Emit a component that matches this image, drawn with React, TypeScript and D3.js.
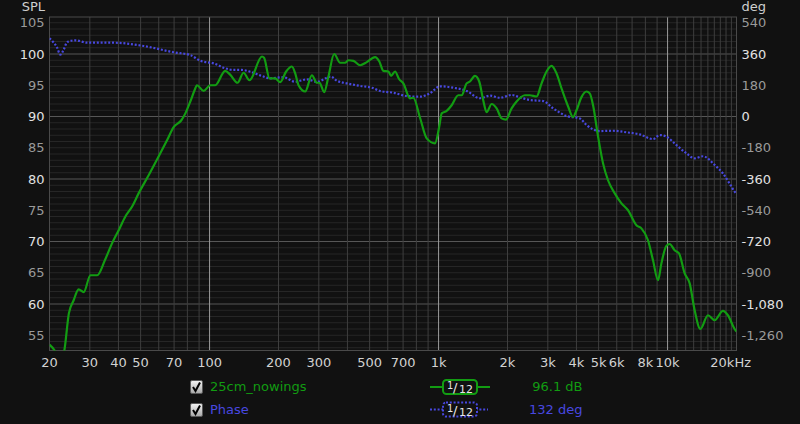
import * as d3 from "d3";

// frequency response (Hz / dB)
const splFreq = [
  20, 21.2, 22.2, 23.2, 24.3, 25.5, 26.8, 28.2, 30.2, 32.3, 34.9, 37.5, 40.1, 42.9, 45.9, 49, 54.2, 59.9,
  65.2, 69.7, 75.3, 78.4, 82.4, 86, 88.1, 94.2, 100.7, 105.9, 117, 123, 132.5, 140.7, 149.4, 169.4, 173,
  182.7, 193.5, 203.4, 216, 228.8, 236.6, 244.6, 261.6, 279.8, 294.2, 302, 316.6, 330.4, 350, 371.6,
  390.8, 404, 424.8, 454.4, 485.8, 528.2, 551.4, 574.2, 603.6, 620.2, 645.6, 672, 701.8, 750.4, 775.8,
  830, 887.8, 965, 1007, 1032, 1085, 1141, 1219, 1261, 1326, 1371, 1442, 1505, 1567, 1621, 1705, 1793,
  1885, 1968, 2084, 2192, 2382, 2504, 2680, 2817, 2962, 3115, 3275, 3443, 3679, 3868, 4003, 4208, 4425,
  4573, 4728, 4971, 5227, 5496, 5880, 6290, 6720, 7311, 7688, 8214, 8638, 9084, 9398, 9882, 10214,
  10740, 11218, 11878, 12490, 13132, 13904, 15010, 16056, 17450, 18348, 19622, 20000,
];
const splDb = [
  53.5, 52.4, 50.6, 52.5, 58.5, 60.6, 62.35, 61.9, 64.6, 64.6, 67.0, 69.7, 71.8, 74.0, 75.6, 77.7, 80.6, 83.6,
  86.2, 88.3, 89.4, 90.5, 92.4, 94.2, 95.0, 94.1, 95.0, 95.0, 97.3, 96.7, 95.4, 97.0, 95.8, 99.6, 99.4,
  96.1, 96.1, 95.5, 97.2, 98.0, 96.9, 95.0, 94.0, 96.6, 95.4, 95.4, 93.9, 96.4, 100.0, 98.6,
  98.6, 99.0, 98.9, 98.2, 98.7, 99.5, 98.8, 97.3, 97.2, 96.5, 97.2, 96.0, 95.3, 92.9, 93.0,
  89.8, 86.5, 85.7, 88.4, 90.5, 90.9, 91.8, 93.4, 93.4, 95.3, 95.6, 96.5, 95.6, 92.6, 90.7, 92.0, 91.3,
  89.7, 89.5, 91.3, 92.4, 93.4, 93.4, 93.2, 95.3, 97.2, 98.1, 96.9, 94.5, 91.6, 89.9, 91.0, 93.1, 94.0,
  93.7, 91.8, 86.8, 82.5, 79.8, 77.7, 76.1, 75.0, 72.6, 72.1, 70.2, 67.0, 63.8, 66.5, 69.3, 69.6,
  68.6, 68.1, 64.9, 63.3, 59.0, 56.0, 58.2, 57.4, 58.9, 58.2, 56.0, 55.6,
];

// phase (Hz / deg)
const phaseFreq = [
  20, 21.6, 22.3, 23.1, 23.9, 26, 29.2, 38.1, 51.6, 69.7, 82.4, 91.1, 104.1, 117, 127.3, 138.5, 150.5,
  169.4, 184, 210, 236.6, 266, 294.2, 338.6, 359.6, 397.6, 454.4, 511, 555.4, 634.8, 726, 830, 917,
  1015, 1160, 1326, 1516, 1676, 1853, 2084, 2266, 2504, 2862, 3164, 3620, 4138, 4425, 5058, 5781,
  6614, 7560, 8638, 9240, 9882, 10926, 12080, 13132, 14276, 16056, 17450, 18662, 19622, 20000,
];
const phaseDeg = [
  450, 396, 356, 387, 429, 439, 425, 425, 406, 370, 354, 321, 306, 278, 268, 268, 258,
  233, 220, 226, 200, 214, 200, 230, 206, 191, 176, 166, 147, 137, 118, 114, 134,
  174, 166, 147, 105, 120, 108, 124, 110, 95, 89, 47, 3, -11, -49, -84, -82,
  -91, -103, -130, -107, -116, -164, -212, -241, -229, -279, -328, -386, -433, -445,
];

const splTicks = [55, 60, 65, 70, 75, 80, 85, 90, 95, 100, 105];
const degTicks = [-1260, -1080, -900, -720, -540, -360, -180, 0, 180, 360, 540];
const freqTicks = [20, 30, 40, 50, 70, 100, 200, 300, 500, 700, 1000, 2000, 3000, 4000, 5000, 6000, 8000, 10000, 20000];
const freqLabels = ["20", "30", "40", "50", "70", "100", "200", "300", "500", "700", "1k", "2k", "3k", "4k", "5k", "6k", "8k", "10k", "20kHz"];

const W = 800;
const H = 424;
const left = 49.5;
const right = 736.5;
const top = 17;
const bottom = 350.5;
const BG = "#111111";
const GREEN = "#129c12";
const BLUE = "#4848e0";
const font = "'DejaVu Sans', sans-serif";

// dB window, phase axis shares it (0 deg at 90 dB, 180 deg per 5 dB)
const dbMin = 52.56;
const dbMax = 105.92;

export default function App() {
  const x = d3.scaleLog().domain([20, 20000]).range([left, right]);
  const yL = d3.scaleLinear().domain([dbMin, dbMax]).range([bottom, top]);
  const yR = d3.scaleLinear().domain([(dbMin - 90) * 36, (dbMax - 90) * 36]).range([bottom, top]);

  // vertical grid: 1..9 per decade, 1k steps above 10k
  const gridF: number[] = [];
  for (const dec of [10, 100, 1000]) for (let m = 1; m <= 9; m++) gridF.push(dec * m);
  for (let f = 10000; f <= 20000; f += 1000) gridF.push(f);
  const vLines = gridF.filter((f) => f > 20 && f < 20000);

  const hLines = d3.range(53, 106, 1);

  const splLine = d3
    .line<number>()
    .x((_, i) => x(splFreq[i]))
    .y((d) => yL(d))
    .curve(d3.curveMonotoneX);
  const phaseLine = d3
    .line<number>()
    .x((_, i) => x(phaseFreq[i]))
    .y((d) => yR(d))
    .curve(d3.curveMonotoneX);

  const fmtDeg = (v: number) => d3.format(",")(v).replace("\u2212", "-");

  return (
    <div>
      <style>{`body{margin:0;background:${BG};}`}</style>
      <svg width={W} height={H} style={{ display: "block", background: BG }} fontFamily={font}>
        <defs>
          <clipPath id="plot">
            <rect x={left} y={top} width={right - left} height={bottom - top} />
          </clipPath>
          <linearGradient id="cb" x1="0" y1="0" x2="0" y2="1">
            <stop offset="0" stopColor="#f4f4f4" />
            <stop offset="1" stopColor="#a8a8a8" />
          </linearGradient>
        </defs>

        {/* grid */}
        {hLines.map((v) => (
          <line key={"h" + v} x1={left} x2={right} y1={yL(v)} y2={yL(v)}
            stroke={v % 10 === 0 ? "#575757" : "#262626"} strokeWidth={1} />
        ))}
        {vLines.map((f) => (
          <line key={"v" + f} x1={x(f)} x2={x(f)} y1={top} y2={bottom}
            stroke={f === 100 || f === 1000 || f === 10000 ? "#9a9a9a" : "#3e3e3e"} strokeWidth={1} />
        ))}
        <rect x={left} y={top} width={right - left} height={bottom - top} fill="none" stroke="#4a4a4a" />

        {/* curves */}
        <g clipPath="url(#plot)">
          <path d={phaseLine(phaseDeg) || ""} fill="none" stroke={BLUE} strokeWidth={2.2} strokeDasharray="2 1.8" />
          <path d={splLine(splDb) || ""} fill="none" stroke={GREEN} strokeWidth={2.2} strokeLinejoin="round" />
        </g>

        {/* left axis */}
        <text x={45} y={11} textAnchor="end" fontSize={13} fill="#cfcfcf">SPL</text>
        {splTicks.map((v) => (
          <text key={"l" + v} x={44.5} y={yL(v) + 4.5} textAnchor="end" fontSize={13}
            fill={v % 10 === 0 ? "#e2e2e2" : "#9a9a9a"}>{v}</text>
        ))}

        {/* right axis */}
        <text x={741.5} y={11} fontSize={13} fill="#cfcfcf">deg</text>
        {degTicks.map((v) => (
          <text key={"r" + v} x={741.5} y={yR(v) + 4.5} fontSize={13}
            fill={v % 360 === 0 ? "#e2e2e2" : "#9a9a9a"}>{fmtDeg(v)}</text>
        ))}

        {/* bottom axis */}
        {freqTicks.map((f, i) => (
          <text key={"x" + f} x={f === 20000 ? 751 : x(f)} y={366.5}
            textAnchor={f === 20000 ? "end" : "middle"} fontSize={13} fill="#d2d2d2">
            {freqLabels[i]}
          </text>
        ))}

        {/* legend */}
        {[0, 1].map((i) => (
          <g key={"cb" + i} transform={`translate(190,${380 + i * 23})`}>
            <rect x={0.5} y={0.5} width={12} height={13} rx={1.5} fill="url(#cb)" stroke="#5a5a5a" />
            <path d="M3 7 L5.5 11 L10 2.5" fill="none" stroke="#000" strokeWidth={2} />
          </g>
        ))}
        <text x={210} y={391} fontSize={13} fill={GREEN}>25cm_nowings</text>
        <text x={210} y={414} fontSize={13} fill={BLUE}>Phase</text>

        <line x1={430} x2={490} y1={387} y2={387} stroke={GREEN} strokeWidth={2} />
        <rect x={443} y={380} width={34} height={14} rx={3.5} fill={BG} stroke={GREEN} strokeWidth={2} />
        <line x1={430} x2={488} y1={409.5} y2={409.5} stroke={BLUE} strokeWidth={2} strokeDasharray="2 1.8" />
        <rect x={443} y={402.5} width={34} height={14} rx={3} fill={BG} stroke={BLUE} strokeWidth={2} strokeDasharray="2 1.8" />
        {[0, 1].map((i) => (
          <g key={"fr" + i} transform={`translate(0,${i * 23})`} fill="#e6e6e6">
            <text x={447} y={389} fontSize={10}>1</text>
            <text x={453} y={392} fontSize={13}>/</text>
            <text x={459} y={393} fontSize={11}>12</text>
          </g>
        ))}
        <text x={582.5} y={391} textAnchor="end" fontSize={13} fill={GREEN}>96.1 dB</text>
        <text x={582.5} y={414} textAnchor="end" fontSize={13} fill={BLUE}>132 deg</text>
      </svg>
    </div>
  );
}
